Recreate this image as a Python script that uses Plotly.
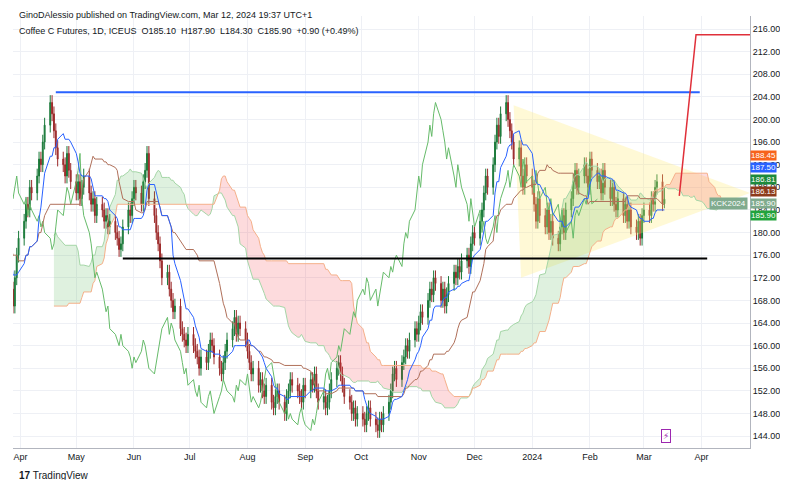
import pandas as pd
import numpy as np
import plotly.graph_objects as go

# daily closes by month (Jan-Mar 2023 mostly off-screen, used for indicator warm-up)
months = ['2023-01', '2023-02', '2023-03', '2023-04', '2023-05', '2023-06', '2023-07', '2023-08',
          '2023-09', '2023-10', '2023-11', '2023-12', '2024-01', '2024-02', '2024-03']
closes = [
    [158, 155, 151, 150, 149, 152, 154, 153, 151, 150, 152, 155, 156, 154, 157, 158, 160, 162, 161, 163, 165, 166],
    [170, 172, 175, 174, 176, 178, 177, 180, 182, 181, 179, 178, 180, 182, 184, 185, 183, 181, 182, 180],
    [181, 183, 182, 180, 178, 176, 177, 179, 180, 182, 178, 175, 173, 172, 174, 176, 178, 176, 170, 167, 172, 176, 179],
    [182, 185, 184, 188, 187, 190, 193, 192, 196, 199, 203, 201, 198, 195, 193, 192, 190, 194, 191, 189],
    [187, 189, 186, 188, 190, 187, 185, 186, 183, 185, 184, 182, 183, 181, 182, 180, 179, 177, 178, 181, 184, 183, 186],
    [188, 187, 185, 189, 191, 194, 186, 183, 180, 178, 175, 172, 173, 170, 168, 166, 167, 163, 162, 161, 160, 162],
    [160, 159, 158, 156, 158, 157, 159, 161, 160, 158, 156, 155, 157, 159, 161, 163, 165, 162, 164, 163, 161],
    [159, 157, 155, 156, 153, 154, 152, 151, 153, 150, 149, 151, 152, 150, 148, 151, 152, 154, 153, 152, 151, 150, 153],
    [152, 154, 153, 155, 152, 150, 151, 149, 150, 152, 154, 156, 157, 155, 153, 151, 150, 148, 149, 147, 148],
    [147, 146, 148, 149, 147, 146, 145, 147, 146, 148, 150, 152, 155, 156, 154, 157, 158, 160, 159, 161, 163, 162],
    [164, 166, 165, 168, 170, 169, 172, 171, 168, 170, 167, 169, 171, 173, 172, 174, 173, 175, 176, 174, 178, 180],
    [179, 182, 184, 187, 190, 188, 192, 196, 199, 197, 201, 203, 200, 198, 196, 193, 195, 190, 188, 192, 190],
    [188, 185, 182, 186, 183, 181, 184, 180, 182, 179, 178, 181, 183, 180, 184, 186, 189, 191, 188, 190, 192, 190, 188],
    [193, 191, 189, 190, 187, 191, 188, 186, 188, 185, 184, 186, 183, 185, 182, 184, 181, 180, 182, 179, 183],
    [184, 183, 186, 185, 188, 189, 185.1, 185.9],
]
last_high = 187.9
last_low = 184.3

resistance = 204.8
support = 175.4
triangle_dates = ['2023-12-22', '2023-12-26', '2024-04-27', '2023-12-22']
triangle_vals = [202.5, 172.0, 187.0, 202.5]
target_dates = ['2024-03-20', '2024-03-29', '2024-04-27']
target_vals = [186.5, 215.0, 215.0]
tag_vals = [188.45, 187.50, 186.81, 186.13, 185.90, 185.90]
tag_cols = ['#f7631b', '#2962ff', '#1e8a3c', '#8d3b1c', '#80ab8e', '#22a33c']

dates, c = [], []
for m, vals in zip(months, closes):
    start = pd.Timestamp(m + '-01')
    bd = pd.bdate_range(start, start + pd.offsets.MonthEnd(0))[:len(vals)]
    dates += list(bd)
    c += vals
df = pd.DataFrame({'close': c}, index=pd.DatetimeIndex(dates))
df['open'] = df['close'].shift(1).fillna(df['close'])
df['high'] = df[['open', 'close']].max(axis=1) + 1.3
df['low'] = df[['open', 'close']].min(axis=1) - 1.3
df.iloc[-1, df.columns.get_loc('high')] = last_high
df.iloc[-1, df.columns.get_loc('low')] = last_low

# ichimoku
def mid(n):
    return (df['high'].rolling(n).max() + df['low'].rolling(n).min()) / 2
tenkan = mid(9)
kijun = mid(26)
shift_idx = df.index[26:].append(pd.bdate_range(df.index[-1] + pd.Timedelta(days=1), periods=26))
spanA = pd.Series(((tenkan + kijun) / 2).values, index=shift_idx)
spanB = pd.Series(mid(52).values, index=shift_idx)
chikou = pd.Series(df['close'].values[26:], index=df.index[:-26])

fig = go.Figure()

fig.add_trace(go.Scatter(x=triangle_dates, y=triangle_vals, fill='toself', fillcolor='rgba(255,235,120,0.3)',
                         line=dict(width=0), mode='lines', hoverinfo='skip'))

# cloud, coloured by which span is on top
ok = spanA.notna() & spanB.notna()
sa, sb = spanA[ok], spanB[ok]
up = (sa >= sb).values
start = 0
for i in range(1, len(sa) + 1):
    if i == len(sa) or up[i] != up[start]:
        seg = slice(start, min(i + 1, len(sa)))
        col = 'rgba(76,175,80,0.18)' if up[start] else 'rgba(242,54,69,0.18)'
        fig.add_trace(go.Scatter(x=sb.index[seg], y=sb.values[seg], mode='lines', line=dict(width=0), hoverinfo='skip'))
        fig.add_trace(go.Scatter(x=sa.index[seg], y=sa.values[seg], mode='lines', line=dict(width=0),
                                 fill='tonexty', fillcolor=col, hoverinfo='skip'))
        start = i
fig.add_trace(go.Scatter(x=sa.index, y=sa.values, mode='lines', line=dict(color='#a5d6a7', width=1)))
fig.add_trace(go.Scatter(x=sb.index, y=sb.values, mode='lines', line=dict(color='#f5b08a', width=1)))

fig.add_trace(go.Scatter(x=chikou.index, y=chikou.values, mode='lines', line=dict(color='#66bb6a', width=1)))
fig.add_trace(go.Scatter(x=df.index, y=kijun, mode='lines', line=dict(color='#b0705a', width=1)))
fig.add_trace(go.Scatter(x=df.index, y=tenkan, mode='lines', line=dict(color='#2962ff', width=1)))

fig.add_trace(go.Candlestick(x=df.index, open=df['open'], high=df['high'], low=df['low'], close=df['close'],
                             increasing=dict(line=dict(color='#1b7a3a', width=1), fillcolor='#1b7a3a'),
                             decreasing=dict(line=dict(color='#9c2a2a', width=1), fillcolor='#9c2a2a')))

fig.add_trace(go.Scatter(x=['2023-04-20', '2024-03-31'], y=[resistance, resistance], mode='lines',
                         line=dict(color='#2962ff', width=2)))
fig.add_trace(go.Scatter(x=['2023-05-26', '2024-04-04'], y=[support, support], mode='lines',
                         line=dict(color='#000000', width=2)))
fig.add_trace(go.Scatter(x=target_dates, y=target_vals, mode='lines', line=dict(color='#e0303a', width=1.5)))

ann = []
shifts = [44, 32, 20, 8, -4, -16]
for v, col, s in zip(tag_vals, tag_cols, shifts):
    ann.append(dict(x=1.0, xref='paper', y=185.9, yref='y', yshift=s, xanchor='left', text='%.2f' % v,
                    showarrow=False, bgcolor=col, font=dict(color='white', size=8), borderpad=0))
ann += [
    dict(x=1.0, xref='paper', xanchor='right', y=185.9, yref='y', yshift=-4, xshift=-2, text='KCK2024',
         showarrow=False, bgcolor='#80ab8e', font=dict(color='white', size=8), borderpad=1),
    dict(x=0.005, xref='paper', y=1.0, yref='paper', yanchor='top', xanchor='left', showarrow=False, yshift=-8,
         text='Coffee C Futures, 1D, ICEUS  O185.10  H187.90  L184.30  C185.90  +0.90 (+0.49%)',
         font=dict(size=9, color='#131722')),
    dict(x=0.005, xref='paper', y=1.0, yref='paper', yshift=8, yanchor='top', xanchor='left', showarrow=False,
         text='GinoDAlessio published on TradingView.com, Mar 12, 2024 19:37 UTC+1', font=dict(size=9, color='#131722')),
    dict(x=0.005, xref='paper', y=0, yref='paper', yshift=-20, yanchor='top', xanchor='left', showarrow=False,
         text='<b>17</b> TradingView', font=dict(size=10, color='#131722')),
    dict(x='2024-03-13', y=144, text='⚡', showarrow=False, font=dict(size=9, color='#9c27b0'),
         bordercolor='#9c27b0', borderwidth=1, borderpad=1),
]

fig.update_layout(
    width=788, height=480, margin=dict(l=5, r=46, t=8, b=40),
    paper_bgcolor='white', plot_bgcolor='white', showlegend=False,
    font=dict(family='Liberation Sans, DejaVu Sans', size=10, color='#131722'),
    annotations=ann,
    xaxis=dict(range=['2023-03-28', '2024-04-27'], rangeslider=dict(visible=False), showgrid=True,
               gridcolor='#eef0f5', tickvals=pd.date_range('2023-04-01', '2024-04-01', freq='MS'),
               ticktext=['Apr', 'May', 'Jun', 'Jul', 'Aug', 'Sep', 'Oct', 'Nov', 'Dec', '2024', 'Feb', 'Mar', 'Apr'],
               tickfont=dict(size=9), showline=True, linecolor='#b2b5be'),
    yaxis=dict(side='right', range=[141.9, 218.3], dtick=4, tick0=144, tickformat='.2f', showgrid=True,
               gridcolor='#eef0f5', tickfont=dict(size=9), showline=True, linecolor='#b2b5be'),
)

fig.write_html("out.html")
